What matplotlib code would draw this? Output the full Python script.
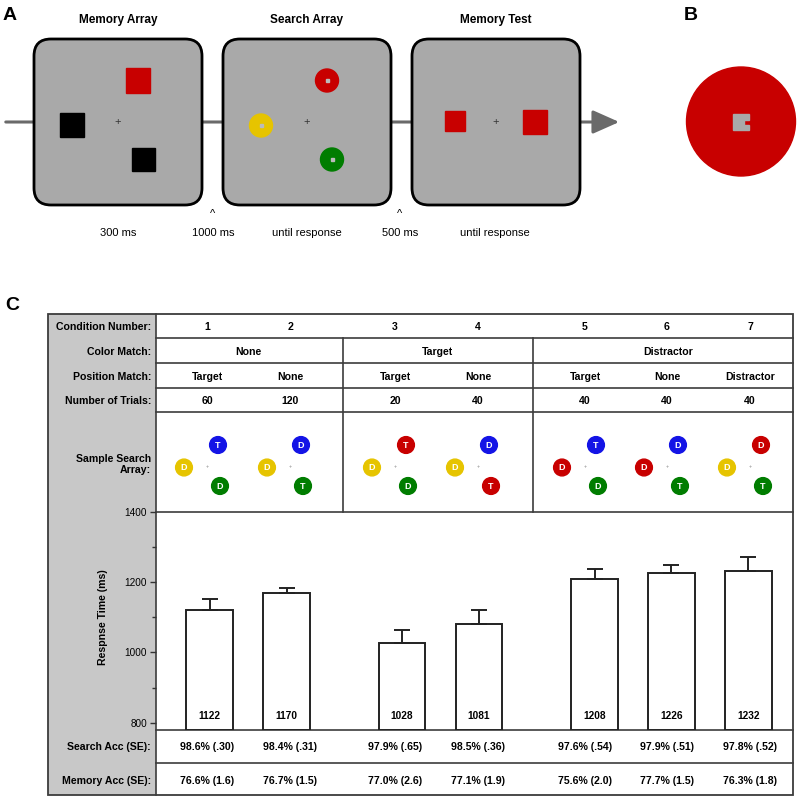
import numpy as np
import matplotlib
matplotlib.use('Agg')
import matplotlib.pyplot as plt
import matplotlib.patches as patches

plt.rcParams['font.family'] = ['Liberation Sans', 'DejaVu Sans']

# ---- data ----
conditions = ['1', '2', '3', '4', '5', '6', '7']
color_match = ['None', 'Target', 'Distractor']
position_match = ['Target', 'None', 'Target', 'None', 'Target', 'None', 'Distractor']
n_trials = ['60', '120', '20', '40', '40', '40', '40']
rt = [1122, 1170, 1028, 1081, 1208, 1226, 1232]
rt_se = [29, 14, 36, 40, 31, 23, 40]
search_acc = ['98.6% (.30)', '98.4% (.31)', '97.9% (.65)', '98.5% (.36)',
              '97.6% (.54)', '97.9% (.51)', '97.8% (.52)']
memory_acc = ['76.6% (1.6)', '76.7% (1.5)', '77.0% (2.6)', '77.1% (1.9)',
              '75.6% (2.0)', '77.7% (1.5)', '76.3% (1.8)']
# sample search arrays: (top, left, bottom) as (color, letter)
sample_top = [('blue', 'T'), ('blue', 'D'), ('red', 'T'), ('blue', 'D'),
              ('blue', 'T'), ('blue', 'D'), ('red', 'D')]
sample_left = [('yellow', 'D'), ('yellow', 'D'), ('yellow', 'D'), ('yellow', 'D'),
               ('red', 'D'), ('red', 'D'), ('yellow', 'D')]
sample_bot = [('green', 'D'), ('green', 'T'), ('green', 'D'), ('red', 'T'),
              ('green', 'D'), ('green', 'T'), ('green', 'T')]
timeline_titles = ['Memory Array', 'Search Array', 'Memory Test']
timeline_times = ['300 ms', '1000 ms', 'until response', '500 ms', 'until response']

# ---- layout (pixels) ----
cols = {'red': '#c80000', 'blue': '#1414e6', 'yellow': '#e6c400', 'green': '#007d00'}
gray = '#a9a9a9'
bar_pos = [0, 1, 2.5, 3.5, 5, 6, 7]
col_x = [207, 290, 395, 478, 585, 667, 750]
group_x = [248, 438, 668]
box_x = [34, 223, 412]
time_x = [118, 213, 307, 400, 495]

fig = plt.figure(figsize=(8, 8.02), dpi=100)
ax = fig.add_axes([0, 0, 1, 1])
ax.set_xlim(0, 800)
ax.set_ylim(802, 0)
ax.axis('off')

# ===== Panel A =====
ax.text(3, 16, 'A', fontsize=14, fontweight='bold', va='center')
ax.annotate('', xy=(622, 122), xytext=(3, 122),
            arrowprops=dict(arrowstyle='-|>,head_length=0.9,head_width=0.4',
                            color='#6a6a6a', lw=2.2, mutation_scale=18), zorder=1)
for i, bx in enumerate(box_x):
    box = patches.FancyBboxPatch((bx, 39), 168, 166,
                                 boxstyle='round,pad=0,rounding_size=17',
                                 facecolor=gray, edgecolor='black', lw=2, zorder=2)
    ax.add_patch(box)
    cx = bx + 84
    ax.text(cx, 20, timeline_titles[i], fontsize=8.5, fontweight='bold',
            ha='center', va='center')
    ax.text(cx, 122, '+', fontsize=8, color='#333333', ha='center', va='center', zorder=3)

# memory array squares
ax.add_patch(patches.Rectangle((126, 68), 24, 25, color=cols['red'], zorder=3))
ax.add_patch(patches.Rectangle((60, 113), 24, 24, color='black', zorder=3))
ax.add_patch(patches.Rectangle((132, 148), 23, 23, color='black', zorder=3))
# search array circles
for (px, py, c) in [(327, 80.5, 'red'), (261, 125.5, 'yellow'), (332, 159.5, 'green')]:
    ax.add_patch(patches.Circle((px, py), 11.5, color=cols[c], zorder=3))
    ax.add_patch(patches.Rectangle((px - 1.5, py - 1.5), 3, 3, color='#bbbbbb', zorder=4))
# memory test squares
ax.add_patch(patches.Rectangle((445, 111), 20, 20, color=cols['red'], zorder=3))
ax.add_patch(patches.Rectangle((523, 110), 24, 24, color=cols['red'], zorder=3))

for i, tx in enumerate(time_x):
    ax.text(tx, 233, timeline_times[i], fontsize=8, ha='center', va='center')
for tx in [213, 400]:
    ax.text(tx, 214, '^', fontsize=8, ha='center', va='center')

# ===== Panel B =====
ax.text(684, 16, 'B', fontsize=14, fontweight='bold', va='center')
ax.add_patch(patches.Circle((741, 121.5), 54.5, color=cols['red'], zorder=2))
notch = [(732.5, 113.5), (749, 113.5), (749, 119.5), (743.5, 119.5),
         (743.5, 124.5), (749, 124.5), (749, 130), (732.5, 130)]
ax.add_patch(patches.Polygon(notch, closed=True, color=gray, zorder=3))

# ===== Panel C =====
ax.text(5, 306, 'C', fontsize=14, fontweight='bold', va='center')
L, G, R, T, B = 48, 156, 793, 314, 795
ax.add_patch(patches.Rectangle((L, T), G - L, B - T, facecolor='#c8c8c8',
                               edgecolor='none', zorder=1))
ax.add_patch(patches.Rectangle((L, T), R - L, B - T, facecolor='none',
                               edgecolor='#3c3c3c', lw=1.3, zorder=5))
line_kw = dict(color='#3c3c3c', lw=1.2, zorder=5)
ax.plot([G, G], [T, B], **line_kw)
for yy in [338, 363, 388, 412, 512, 730, 763]:
    ax.plot([G, R], [yy, yy], **line_kw)
for xx in [343, 533]:
    ax.plot([xx, xx], [338, 512], **line_kw)

lab_kw = dict(fontsize=7.6, fontweight='bold', ha='right', va='center')
ax.text(151, 326.5, 'Condition Number:', **lab_kw)
ax.text(151, 352, 'Color Match:', **lab_kw)
ax.text(151, 377, 'Position Match:', **lab_kw)
ax.text(151, 401.5, 'Number of Trials:', **lab_kw)
ax.text(151, 464.5, 'Sample Search\nArray:', linespacing=1.15, **lab_kw)
ax.text(151, 747, 'Search Acc (SE):', **lab_kw)
ax.text(151, 780.5, 'Memory Acc (SE):', **lab_kw)

cell_kw = dict(fontsize=7.6, fontweight='bold', ha='center', va='center')
for i, cx in enumerate(col_x):
    ax.text(cx, 326.5, conditions[i], **cell_kw)
    ax.text(cx, 377, position_match[i], **cell_kw)
    ax.text(cx, 401.5, n_trials[i], **cell_kw)
for i, gx in enumerate(group_x):
    ax.text(gx, 352, color_match[i], **cell_kw)

# sample arrays
for i, cx in enumerate(col_x):
    ax.text(cx, 466, '+', fontsize=4, color='#888888', ha='center', va='center')
    for (dx, py), (c, letter) in zip([(11, 445), (-23, 467.5), (13, 486)],
                                     [sample_top[i], sample_left[i], sample_bot[i]]):
        ax.add_patch(patches.Circle((cx + dx, py), 8.4, color=cols[c], zorder=3))
        ax.text(cx + dx, py + 0.5, letter, fontsize=6.5, fontweight='bold',
                color='white', ha='center', va='center', zorder=4)

# bar chart
axb = fig.add_axes([G / 800, 1 - 729.5 / 802, (R - G) / 800, (729.5 - 512) / 802])
axb.patch.set_alpha(0)
ylow = 780.6
axb.set_ylim(ylow, 1400)
axb.set_xlim(-0.695, 7.578)
axb.bar(bar_pos, np.array(rt) - ylow, bottom=ylow, width=0.61, color='white',
        edgecolor='#222222', linewidth=1.4, zorder=2)
axb.errorbar(bar_pos, rt, yerr=[np.zeros(7), rt_se], fmt='none', ecolor='#222222',
             elinewidth=1.4, capsize=6, capthick=1.4, zorder=3)
for xp, v in zip(bar_pos, rt):
    axb.text(xp, 820, str(v), fontsize=7.3, fontweight='bold', ha='center', va='center',
             zorder=4)
axb.set_yticks([800, 1000, 1200, 1400])
axb.set_yticks([900, 1100, 1300], minor=True)
axb.tick_params(axis='y', which='major', length=4.5, width=1, color='#333333',
                labelsize=7.2, pad=2)
axb.tick_params(axis='y', which='minor', length=3, width=1, color='#333333')
axb.set_xticks([])
for s in ['top', 'right', 'bottom', 'left']:
    axb.spines[s].set_visible(False)
ax.text(103, 617, 'Respnse Time (ms)', fontsize=7.6, fontweight='bold', rotation=90,
        ha='center', va='center')

for i, cx in enumerate(col_x):
    ax.text(cx, 747, search_acc[i], **cell_kw)
    ax.text(cx, 780.5, memory_acc[i], **cell_kw)

fig.savefig('out.png', dpi=100)
